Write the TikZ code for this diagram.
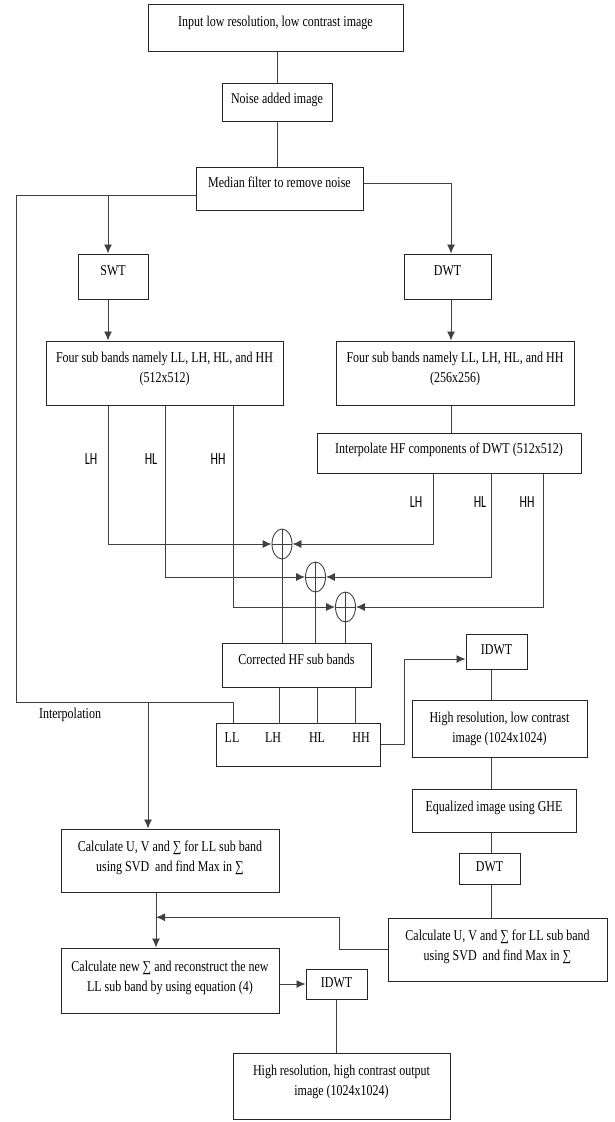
\documentclass[tikz,border=0pt]{standalone}
\usepackage{fontspec}
\setmainfont{Liberation Serif}[FakeStretch=0.8]
\newfontfamily\lblfont{Carlito}[FakeStretch=0.7]
\usetikzlibrary{arrows.meta,shapes.geometric,calc}

\newcommand{\boxfont}{\fontsize{15}{20}\selectfont}
\tikzstyle{blk}=[draw=black!85,line width=1pt,inner sep=2pt,align=center,font=\boxfont,text depth=12pt]
\tikzstyle{conn}=[draw=black!75,line width=0.9pt]
\tikzstyle{arr}=[conn,-{Latex[length=9pt,width=8pt]}]
\tikzstyle{lbl}=[font=\lblfont\fontsize{17}{18}\selectfont,inner sep=0pt]
\tikzstyle{bandtxt}=[font=\boxfont,inner sep=0pt]
\tikzstyle{sumnode}=[ellipse,draw=black!75,line width=0.9pt,minimum width=20pt,minimum height=30pt,inner sep=0pt,
	path picture={\draw[black!75,line width=0.9pt] (path picture bounding box.north) -- (path picture bounding box.south)
		(path picture bounding box.west) -- (path picture bounding box.east);}]

\begin{document}
\begin{tikzpicture}[x=1pt,y=-1pt]
	\useasboundingbox (0,0) rectangle (615,1122);
	\node[blk,minimum width=255,minimum height=47] (inp) at (275.5,27.5) {Input low resolution, low contrast image};
	\node[blk,minimum width=110,minimum height=38,text depth=8pt] (noise) at (277,102) {Noise added image};
	\node[blk,minimum width=167,minimum height=43] (median) at (279.5,188.5) {Median filter to remove noise};
	\node[blk,minimum width=70,minimum height=45] (swt) at (113,276.5) {SWT};
	\node[blk,minimum width=87,minimum height=45] (dwt) at (447.5,276.5) {DWT};
	\node[blk,minimum width=237,minimum height=64] (fourL) at (164.5,373) {Four sub bands namely LL, LH, HL, and HH\\(512x512)};
	\node[blk,minimum width=238,minimum height=64] (fourR) at (455,373) {Four sub bands namely LL, LH, HL, and HH\\(256x256)};
	\node[blk,minimum width=264,minimum height=40,text depth=9pt] (interp) at (449,453) {Interpolate HF components of DWT (512x512)};
%
	\node[lbl] (lLH) at (91,459) {LH};
	\node[lbl] (lHL) at (151,459) {HL};
	\node[lbl] (lHH) at (218,459) {HH};
	\node[lbl] (rLH) at (416,502) {LH};
	\node[lbl] (rHL) at (480,502) {HL};
	\node[lbl] (rHH) at (527,502) {HH};
%
	\node[sumnode] (sum1) at (282,544) {};
	\node[sumnode] (sum2) at (315.5,577) {};
	\node[sumnode] (sum3) at (345.5,607) {};
%
	\node[blk,minimum width=149,minimum height=44] (corr) at (296.5,665) {Corrected HF sub bands};
	\node[blk,minimum width=164,minimum height=43] (bands) at (298,744.5) {};
	\node[bandtxt] (bLL) at (232,738) {LL};
	\node[bandtxt] (bLH) at (273,738) {LH};
	\node[bandtxt] (bHL) at (317,738) {HL};
	\node[bandtxt] (bHH) at (361,738) {HH};
	\node[bandtxt] (interpl) at (70,715) {Interpolation};
%
	\node[blk,minimum width=61,minimum height=35,text depth=3pt] (idwt) at (496.5,651.5) {IDWT};
	\node[blk,minimum width=175,minimum height=57,text depth=3pt] (hrlc) at (499.5,728.5) {High resolution, low contrast\\image (1024x1024)};
	\node[blk,minimum width=164,minimum height=43,text depth=9pt] (equal) at (494,810.5) {Equalized image using GHE};
	\node[blk,minimum width=61,minimum height=31,text depth=3pt] (dwt2) at (489.5,868.5) {DWT};
	\node[blk,minimum width=218,minimum height=63,text depth=9pt] (calcL) at (170,860.5) {Calculate U, V and ∑ for LL sub band\\using SVD\ \ and find Max in ∑};
	\node[blk,minimum width=219,minimum height=63,text depth=9pt] (calcR) at (497.5,949.5) {Calculate U, V and ∑ for LL sub band\\using SVD\ \ and find Max in ∑};
	\node[blk,minimum width=218,minimum height=65,text depth=9pt] (newS) at (170,980.5) {Calculate new ∑ and reconstruct the new\\LL sub band by using equation (4)};
	\node[blk,minimum width=61,minimum height=30,text depth=3pt] (idwt2) at (336.5,984) {IDWT};
	\node[blk,minimum width=217,minimum height=66] (out) at (341.5,1086) {High resolution, high contrast output\\image (1024x1024)};
%
	\coordinate (tap) at ([yshift=-6.5pt]median.west);
	\coordinate (lcorner) at (16,702);
	\coordinate (swtin) at ([xshift=-5pt]swt.north);
	\coordinate (swtout) at ([xshift=-5pt]swt.south);
	\coordinate (calcin) at ([xshift=-22pt]calcL.north);
	\coordinate (dwtio) at ([xshift=3.5pt]dwt.south);
	\coordinate (col) at (491,0);
	\coordinate (calcout) at ([xshift=-14pt]calcL.south);
	\coordinate (newin) at ([xshift=-14pt]newS.north);
	\coordinate (join) at ($(calcout)!0.45!(newin)$);
%
	\draw[conn] (noise.north |- inp.south) -- (noise.north);
	\draw[conn] (noise.south) -- (noise.south |- median.north);
	\draw[arr] ([yshift=5.5pt]median.east) -| ([xshift=3.5pt]dwt.north);
	\draw[conn] (tap) -| (lcorner) -| ([xshift=-65pt]bands.north);
	\draw[arr] (swtin |- tap) -- (swtin);
	\draw[arr] (swtout) -- (swtout |- fourL.north);
	\draw[arr] (dwtio) -- (dwtio |- fourR.north);
	\draw[conn] (dwtio |- fourR.south) -- (dwtio |- interp.north);
%
	\draw[arr] ([xshift=-56.5pt]fourL.south) |- (sum1.west);
	\draw[arr] ([xshift=0.5pt]fourL.south) |- (sum2.west);
	\draw[arr] ([xshift=68.5pt]fourL.south) |- (sum3.west);
	\draw[arr] ([xshift=-16pt]interp.south) |- (sum1.east);
	\draw[arr] ([xshift=42pt]interp.south) |- (sum2.east);
	\draw[arr] ([xshift=94pt]interp.south) |- (sum3.east);
	\draw[conn] (sum1.south) -- (sum1.south |- corr.north);
	\draw[conn] (sum2.south) -- (sum2.south |- corr.north);
	\draw[conn] (sum3.south) -- (sum3.south |- corr.north);
	\draw[conn] ([xshift=-17.5pt]corr.south) -- +(0,36);
	\draw[conn] ([xshift=20.5pt]corr.south) -- +(0,36);
	\draw[conn] ([xshift=58.5pt]corr.south) -- +(0,36);
%
	\draw[arr] (calcin |- lcorner) -- (calcin);
	\draw[arr] (bands.east) -- ++(24,0) |- ([yshift=-7.5pt]idwt.west);
	\draw[conn] (idwt.south -| col) -- (hrlc.north -| col);
	\draw[conn] (hrlc.south -| col) -- (equal.north -| col);
	\draw[conn] (equal.south -| col) -- (dwt2.north -| col);
	\draw[conn] (dwt2.south -| col) -- (calcR.north -| col);
	\draw[arr] (calcout) -- (newin);
	\draw[arr] (calcR.west) -- ++(-48,0) |- (join);
	\draw[arr] (newS.east |- idwt2.west) -- (idwt2.west);
	\draw[conn] (idwt2.south) -- (idwt2.south |- out.north);
\end{tikzpicture}
\end{document}
